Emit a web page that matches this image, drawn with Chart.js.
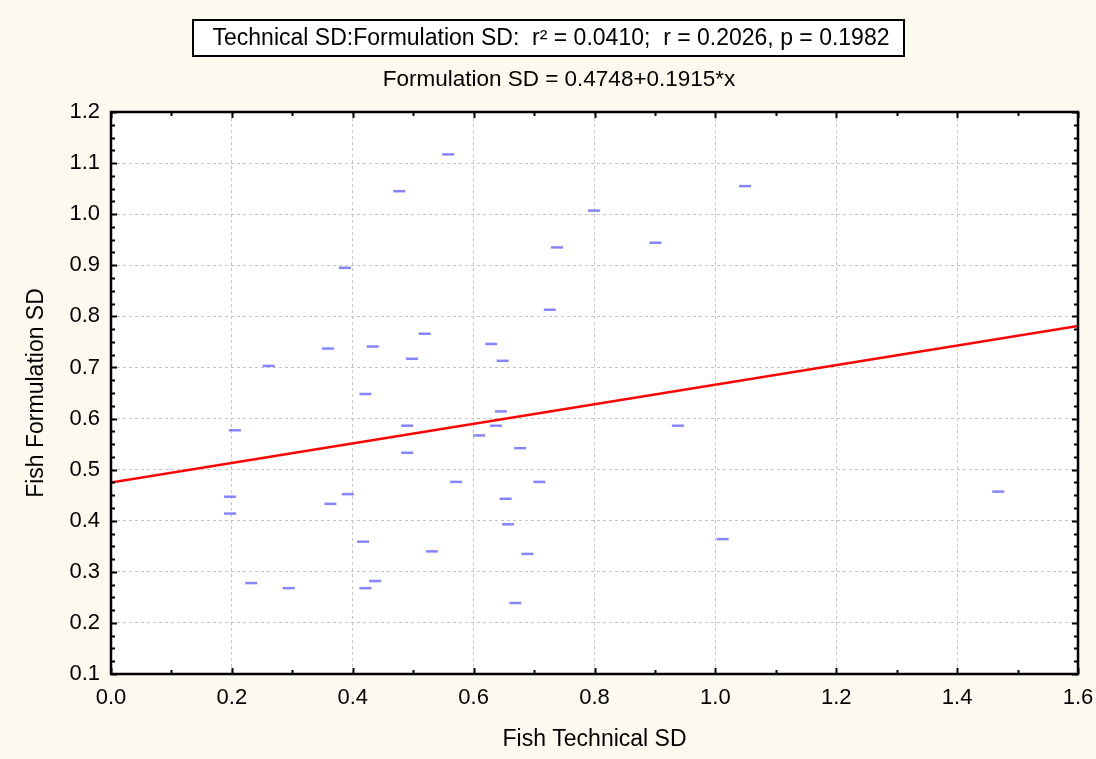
<!DOCTYPE html>
<html>
<head>
<meta charset="utf-8">
<script src="https://cdn.jsdelivr.net/npm/chart.js@4/dist/chart.umd.min.js"></script>
<style>
  html, body { margin: 0; padding: 0; background: #fdf9ef; }
  #wrap { width: 1096px; height: 759px; }
</style>
</head>
<body>
<div id="wrap"><canvas id="myChart" width="1096" height="759"></canvas></div>
<script>
// Fish Technical SD (x) vs Fish Formulation SD (y)
const techSD = [0.558, 0.477, 0.799, 1.049, 0.738, 0.901, 0.387, 0.726, 0.519, 0.433,
  0.629, 0.498, 0.648, 0.421, 0.645, 0.490, 0.637, 0.938, 0.261, 0.359,
  0.205, 0.197, 0.197, 0.232, 0.294, 0.363, 0.392, 0.609, 0.490, 0.677,
  0.571, 0.709, 0.653, 0.657, 0.417, 0.531, 0.689, 1.012, 0.437, 0.421,
  0.669, 1.468];
const formSD = [1.117, 1.045, 1.007, 1.055, 0.935, 0.944, 0.895, 0.813, 0.766, 0.741,
  0.746, 0.717, 0.713, 0.648, 0.614, 0.586, 0.586, 0.586, 0.703, 0.737,
  0.577, 0.447, 0.414, 0.278, 0.268, 0.433, 0.452, 0.567, 0.533, 0.542,
  0.476, 0.476, 0.443, 0.393, 0.359, 0.340, 0.335, 0.364, 0.282, 0.268,
  0.239, 0.457];

// regression from the chart subtitle
const intercept = 0.4748;
const slope = 0.1915;
const fitRange = [0, 1.6];

const xRange = [0, 1.6];
const yRange = [0.1, 1.2];

const statsText = 'Technical SD:Formulation SD:  r\u00B2 = 0.0410;  r = 0.2026, p = 0.1982';
const fitText = 'Formulation SD = 0.4748+0.1915*x';

const FONT = '"Liberation Sans", Arial, sans-serif';

const points = techSD.map((x, i) => ({ x: x, y: formSD[i] }));
const fitLine = fitRange.map(x => ({ x: x, y: intercept + slope * x }));

const framePlugin = {
  id: 'frame',
  beforeDraw(chart) {
    const { ctx, chartArea: a } = chart;
    ctx.save();
    ctx.fillStyle = '#fdf9ef';
    ctx.fillRect(0, 0, chart.width, chart.height);
    ctx.fillStyle = '#ffffff';
    ctx.fillRect(a.left, a.top, a.right - a.left, a.bottom - a.top);
    ctx.restore();
  },
  afterDraw(chart) {
    const { ctx, chartArea: a } = chart;
    const xs = chart.scales.x, ys = chart.scales.y;
    ctx.save();
    ctx.strokeStyle = '#000';
    ctx.lineWidth = 2;

    // tick marks inside the frame
    ctx.beginPath();
    for (let i = 0; i <= 16; i++) {
      const px = Math.round(xs.getPixelForValue(i / 10)) + 0.5;
      const len = i % 2 === 0 ? 6 : 4;
      ctx.moveTo(px, a.bottom); ctx.lineTo(px, a.bottom - len);
      ctx.moveTo(px, a.top); ctx.lineTo(px, a.top + len);
    }
    for (let i = 4; i <= 48; i++) {
      const py = Math.round(ys.getPixelForValue(i / 40)) + 0.5;
      const len = i % 4 === 0 ? 6 : 4;
      ctx.moveTo(a.left, py); ctx.lineTo(a.left + len, py);
      ctx.moveTo(a.right, py); ctx.lineTo(a.right - len, py);
    }
    ctx.stroke();

    ctx.lineWidth = 2.5;
    ctx.strokeRect(a.left, a.top, a.right - a.left, a.bottom - a.top);

    // stats box and fit equation
    ctx.lineWidth = 2;
    ctx.strokeStyle = '#000';
    ctx.fillStyle = '#ffffff';
    ctx.fillRect(193, 20, 711, 36);
    ctx.strokeRect(193, 20, 711, 36);
    ctx.fillStyle = '#000';
    ctx.textBaseline = 'middle';
    ctx.textAlign = 'center';
    ctx.font = '23px ' + FONT;
    ctx.fillText(statsText, 551, 38.5);
    ctx.font = '22.5px ' + FONT;
    ctx.fillText(fitText, 559, 80);
    ctx.restore();
  }
};

new Chart(document.getElementById('myChart'), {
  type: 'scatter',
  data: {
    datasets: [
      {
        label: 'Formulation SD',
        data: points,
        pointStyle: 'line',
        pointRadius: 6,
        pointBorderWidth: 2.5,
        borderColor: 'rgba(120, 120, 255, 0.9)',
        backgroundColor: 'rgba(120, 120, 255, 0.9)',
        order: 2
      },
      {
        label: 'Fit',
        data: fitLine,
        showLine: true,
        pointRadius: 0,
        borderColor: '#ff0000',
        borderWidth: 2.5,
        order: 1
      }
    ]
  },
  options: {
    responsive: false,
    animation: false,
    layout: { padding: { left: 0, right: 18, top: 112, bottom: 0 } },
    plugins: {
      legend: { display: false },
      tooltip: { enabled: false }
    },
    scales: {
      x: {
        type: 'linear',
        min: xRange[0],
        max: xRange[1],
        afterFit(scale) {
          scale.height = 85;
          scale.paddingLeft = 0;
          scale.paddingRight = 0;
        },
        ticks: {
          stepSize: 0.2,
          color: '#000',
          padding: 11,
          font: { family: FONT, size: 22 },
          callback: v => v.toFixed(1)
        },
        grid: { color: '#c4c4c4', lineWidth: 1, drawTicks: false },
        border: { display: false, dash: [3, 3] },
        title: {
          display: true,
          text: 'Fish Technical SD',
          color: '#000',
          font: { family: FONT, size: 23 },
          padding: { top: 0, bottom: 6 }
        }
      },
      y: {
        type: 'linear',
        min: yRange[0],
        max: yRange[1],
        afterFit(scale) {
          scale.width = 111;
          scale.paddingTop = 0;
          scale.paddingBottom = 0;
        },
        ticks: {
          stepSize: 0.1,
          color: '#000',
          padding: 11,
          font: { family: FONT, size: 22 },
          callback: v => v.toFixed(1)
        },
        grid: { color: '#c4c4c4', lineWidth: 1, drawTicks: false },
        border: { display: false, dash: [3, 3] },
        title: {
          display: true,
          text: 'Fish Formulation SD',
          color: '#000',
          font: { family: FONT, size: 23 },
          padding: { top: 23, bottom: 0 }
        }
      }
    }
  },
  plugins: [framePlugin]
});
</script>
</body>
</html>
